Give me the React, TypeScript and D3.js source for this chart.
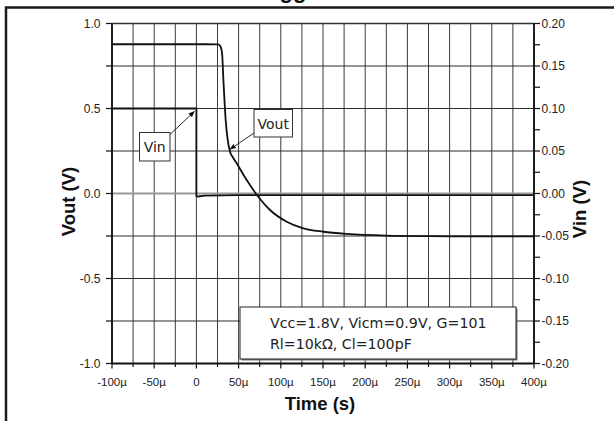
import React from "react";
import * as d3 from "d3";

// ---- data ----
const xTickValues = [-100, -50, 0, 50, 100, 150, 200, 250, 300, 350, 400];
const xTickLabels = ["-100µ", "-50µ", "0", "50µ", "100µ", "150µ", "200µ", "250µ", "300µ", "350µ", "400µ"];
const leftTickValues = [1.0, 0.5, 0.0, -0.5, -1.0];
const leftTickLabels = ["1.0", "0.5", "0.0", "-0.5", "-1.0"];
const rightTickValues = [0.2, 0.15, 0.1, 0.05, 0.0, -0.05, -0.1, -0.15, -0.2];
const rightTickLabels = ["0.20", "0.15", "0.10", "0.05", "0.00", "-0.05", "-0.10", "-0.15", "-0.20"];

// Vout (left axis), time in µs
const voutTime = [-100, 0, 26, 28.5, 30.5, 32, 34.7, 37.1, 39.8, 43, 47.7, 59.6, 73.3, 87.2, 107, 126.7, 150.4, 178, 225, 275, 325, 400];
const voutValue = [0.878, 0.878, 0.877, 0.865, 0.82, 0.668, 0.432, 0.315, 0.246, 0.215, 0.178, 0.079, -0.019, -0.097, -0.166, -0.205, -0.225, -0.238, -0.248, -0.251, -0.252, -0.252];

// Vin (right axis)
const vinTime = [-100, 0, 0, 2, 10, 50, 100, 200, 300, 400];
const vinValue = [0.1, 0.1, -0.003, -0.0035, -0.0025, -0.002, -0.002, -0.002, -0.002, -0.002];

const legendLines = ["Vcc=1.8V, Vicm=0.9V, G=101", "Rl=10kΩ, Cl=100pF"];

export default function App() {
  const W = 614, H = 421;
  const left = 112, right = 534, top = 23.5, bottom = 363.5;
  const x = d3.scaleLinear().domain([-100, 400]).range([left, right]);
  const yL = d3.scaleLinear().domain([-1, 1]).range([bottom, top]);
  const yR = d3.scaleLinear().domain([-0.2, 0.2]).range([bottom, top]);

  const xGrid = d3.range(-100, 400.1, 25);
  const yGrid = d3.range(-1, 1.001, 0.25);
  const yRMinor = d3.range(-0.2, 0.2001, 0.025);

  const voutLine = d3.line<number>()
    .x((_, i) => x(voutTime[i]))
    .y((d) => yL(d))
    .curve(d3.curveMonotoneX)(voutValue) as string;
  const vinLine = d3.line<number>()
    .x((_, i) => x(vinTime[i]))
    .y((d) => yR(d))(vinValue) as string;

  const tickFont = "Liberation Sans, Arial, sans-serif";
  const annFont = "DejaVu Sans, Verdana, sans-serif";

  // annotation targets in data coordinates
  const vinTarget = [x(-2.5), yR(0.1) + 3];
  const voutTarget = [x(40), yL(0.29)];

  return (
    <svg width={W} height={H} style={{ position: "absolute", left: 0, top: 0, background: "#fff" }}>
      <defs>
        <marker id="arr" viewBox="0 0 10 10" refX="9" refY="5" markerWidth="7" markerHeight="7" orient="auto">
          <path d="M0,1 L10,5 L0,9 z" fill="#111" />
        </marker>
      </defs>
      {/* clipped title fragment */}
      <text x={293} y={-2} textAnchor="middle" fontFamily={tickFont} fontWeight="bold" fontSize={22} fill="#111">gg</text>
      {/* outer frame */}
      <path d={`M6,${H} V7.5 H${W}`} fill="none" stroke="#1a1a1a" strokeWidth={2.5} />

      {/* grid */}
      {xGrid.map((v) => (
        <line key={"gx" + v} x1={x(v)} x2={x(v)} y1={top} y2={bottom} stroke="#3a3a3a" strokeWidth={1} />
      ))}
      {yGrid.map((v) => (
        <line key={"gy" + v} x1={left} x2={right} y1={yL(v)} y2={yL(v)} stroke={Math.abs(v) < 1e-9 ? "#999" : "#2a2a2a"} strokeWidth={Math.abs(v) < 1e-9 ? 2 : 1} />
      ))}

      {/* axes frame */}
      <line x1={left} x2={left} y1={top} y2={bottom + 0.5} stroke="#111" strokeWidth={1.8} />
      <line x1={right} x2={right} y1={top} y2={bottom + 0.5} stroke="#111" strokeWidth={1.8} />
      <line x1={left} x2={right} y1={bottom} y2={bottom} stroke="#111" strokeWidth={1.8} />
      <line x1={left} x2={right} y1={top} y2={top} stroke="#333" strokeWidth={1.3} />

      {/* bottom ticks */}
      {xGrid.map((v) => (
        <line key={"tx" + v} x1={x(v)} x2={x(v)} y1={bottom} y2={bottom + (v % 50 === 0 ? 5 : 3.5)} stroke="#111" strokeWidth={1.2} />
      ))}
      {xTickValues.map((v, i) => (
        <text key={"lx" + v} x={x(v)} y={386} textAnchor="middle" fontFamily={tickFont} fontSize={11.5} fill="#222">{xTickLabels[i]}</text>
      ))}
      {/* left ticks */}
      {yGrid.map((v) => (
        <line key={"tl" + v} x1={left - 6} x2={left} y1={yL(v)} y2={yL(v)} stroke="#111" strokeWidth={1.2} />
      ))}
      {leftTickValues.map((v, i) => (
        <text key={"ll" + v} x={100.5} y={yL(v) + 4} textAnchor="end" fontFamily={tickFont} fontSize={12} fill="#222">{leftTickLabels[i]}</text>
      ))}
      {/* right ticks */}
      {yRMinor.map((v, i) => (
        <line key={"tr" + i} x1={right} x2={right + 6} y1={yR(v)} y2={yR(v)} stroke="#111" strokeWidth={1.2} />
      ))}
      {rightTickValues.map((v, i) => (
        <text key={"lr" + i} x={541.5} y={yR(v) + 4} textAnchor="start" fontFamily={tickFont} fontSize={12} fill="#222">{rightTickLabels[i]}</text>
      ))}

      {/* axis titles */}
      <text transform={`translate(74.5,${201.5}) rotate(-90)`} textAnchor="middle" fontFamily={tickFont} fontWeight="bold" fontSize={18.5} fill="#111">Vout (V)</text>
      <text transform={`translate(586,${209}) rotate(-90)`} textAnchor="middle" fontFamily={tickFont} fontWeight="bold" fontSize={18.5} fill="#111">Vin (V)</text>
      <text x={320} y={410} textAnchor="middle" fontFamily={tickFont} fontWeight="bold" fontSize={18.5} fill="#111">Time (s)</text>

      {/* data */}
      <path d={vinLine} fill="none" stroke="#111" strokeWidth={1.8} />
      <path d={voutLine} fill="none" stroke="#111" strokeWidth={1.8} />

      {/* Vin annotation */}
      <line x1={170} y1={134.5} x2={vinTarget[0]} y2={vinTarget[1]} stroke="#111" strokeWidth={0.9} markerEnd="url(#arr)" />
      <rect x={139.5} y={132.5} width={30.5} height={28.5} fill="#fff" stroke="#333" strokeWidth={1} />
      <text x={154.7} y={152} textAnchor="middle" fontFamily={annFont} fontSize={14} fill="#222">Vin</text>

      {/* Vout annotation */}
      <line x1={254} y1={133} x2={voutTarget[0]} y2={voutTarget[1] + 5} stroke="#111" strokeWidth={0.9} markerEnd="url(#arr)" />
      <rect x={254} y={109.5} width={38.5} height={27.5} fill="#fff" stroke="#333" strokeWidth={1} />
      <text x={273.2} y={128.5} textAnchor="middle" fontFamily={annFont} fontSize={14} fill="#222">Vout</text>

      {/* parameter box */}
      <rect x={241.5} y={308.5} width={276} height={52} fill="#777" />
      <rect x={240} y={307} width={276} height={52} fill="#fff" stroke="#222" strokeWidth={1} />
      {legendLines.map((t, i) => (
        <text key={"lg" + i} x={270} y={327.5 + i * 21} fontFamily={annFont} fontSize={14.2} fill="#222">{t}</text>
      ))}
    </svg>
  );
}
